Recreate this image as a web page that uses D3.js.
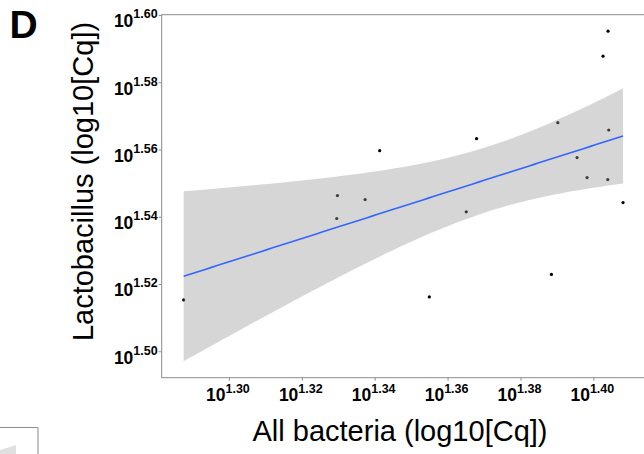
<!DOCTYPE html>
<html>
<head>
<meta charset="utf-8">
<script src="https://cdn.jsdelivr.net/npm/d3@7"></script>
<style>
	body { margin: 0; background: #fff; }
	svg { display: block; font-family: 'Liberation Sans', Arial, sans-serif; }
</style>
</head>
<body>
<svg id="chart" width="644" height="454"></svg>
<script>
// values (log10 Cq)
const allBacteria = [1.40403, 1.40266, 1.39025, 1.40422, 1.36795, 1.39553, 1.39827, 1.40395, 1.40814,
	1.36512, 1.32978, 1.33737, 1.32959, 1.28759, 1.35499, 1.38849, 1.34137]
const lactobacillus = [1.59516, 1.58774, 1.56795, 1.56579, 1.5632, 1.55757, 1.55163, 1.55104, 1.54421,
	1.54145, 1.54629, 1.5451, 1.53947, 1.51525, 1.51614, 1.52285, 1.55964]
const xTicks = [1.3, 1.32, 1.34, 1.36, 1.38, 1.4]
const xTickLabels = ['1.30', '1.32', '1.34', '1.36', '1.38', '1.40']
const yTicks = [1.5, 1.52, 1.54, 1.56, 1.58, 1.6]
const yTickLabels = ['1.50', '1.52', '1.54', '1.56', '1.58', '1.60']

const panelLabel = 'D'
const xTitle = 'All bacteria (log10[Cq])'
const yTitle = 'Lactobacillus (log10[Cq])'

// t quantile 0.975 for n - 2 = 15 degrees of freedom
const tCrit = 2.131

const panel = { left: 161.7, top: 14.7, right: 645, bottom: 377.7 }

const points = allBacteria.map((x, i) => ({ x, y: lactobacillus[i] }))

// linear model with 95% confidence band, like geom_smooth(method = 'lm')
function fitLine(data) {
	const n = data.length
	const mx = d3.mean(data, d => d.x)
	const my = d3.mean(data, d => d.y)
	const sxx = d3.sum(data, d => (d.x - mx) ** 2)
	const sxy = d3.sum(data, d => (d.x - mx) * (d.y - my))
	const slope = sxy / sxx
	const intercept = my - slope * mx
	const rss = d3.sum(data, d => (d.y - intercept - slope * d.x) ** 2)
	const s = Math.sqrt(rss / (n - 2))
	const [x0, x1] = d3.extent(data, d => d.x)
	return d3.range(80).map(i => {
		const x = x0 + ((x1 - x0) * i) / 79
		const fit = intercept + slope * x
		const se = s * Math.sqrt(1 / n + (x - mx) ** 2 / sxx)
		return { x, fit, lo: fit - tCrit * se, hi: fit + tCrit * se }
	})
}

const band = fitLine(points)

function expand([a, b]) {
	const pad = (b - a) * 0.05
	return [a - pad, b + pad]
}

const xDomain = expand(d3.extent(allBacteria))
const yDomain = expand([
	Math.min(d3.min(lactobacillus), d3.min(band, d => d.lo)),
	Math.max(d3.max(lactobacillus), d3.max(band, d => d.hi))
])

const x = d3.scaleLinear().domain(xDomain).range([panel.left, panel.right])
const y = d3.scaleLinear().domain(yDomain).range([panel.bottom, panel.top])

const svg = d3.select('#chart')

svg.append('rect')
	.attr('width', 644)
	.attr('height', 454)
	.attr('fill', '#fff')

// points first, the ribbon sits over them
svg.append('g')
	.selectAll('circle')
	.data(points)
	.enter()
	.append('circle')
	.attr('cx', d => x(d.x))
	.attr('cy', d => y(d.y))
	.attr('r', 1.6)
	.attr('fill', '#000')

svg.append('path')
	.datum(band)
	.attr('fill', '#999999')
	.attr('fill-opacity', 0.4)
	.attr('d', d3.area()
		.x(d => x(d.x))
		.y0(d => y(d.lo))
		.y1(d => y(d.hi)))

svg.append('path')
	.datum(band)
	.attr('fill', 'none')
	.attr('stroke', '#3366FF')
	.attr('stroke-width', 1.6)
	.attr('d', d3.line()
		.x(d => x(d.x))
		.y(d => y(d.fit)))

// panel border
svg.append('rect')
	.attr('x', panel.left)
	.attr('y', panel.top)
	.attr('width', panel.right - panel.left)
	.attr('height', panel.bottom - panel.top)
	.attr('fill', 'none')
	.attr('stroke', '#8c8c8c')
	.attr('stroke-width', 1)

// axes, ticks only; labels are 10^value so they are drawn by hand below
const xAxis = svg.append('g')
	.attr('transform', `translate(0,${panel.bottom})`)
	.call(d3.axisBottom(x).tickValues(xTicks).tickSize(3).tickFormat(''))
const yAxis = svg.append('g')
	.attr('transform', `translate(${panel.left},0)`)
	.call(d3.axisLeft(y).tickValues(yTicks).tickSize(3).tickFormat(''))

;[xAxis, yAxis].forEach(g => {
	g.select('.domain').remove()
	g.selectAll('.tick line').attr('stroke', '#8c8c8c')
})

const xLabels = svg.append('g')
	.selectAll('text')
	.data(xTicks)
	.enter()
	.append('text')
	.attr('x', d => x(d) - 1)
	.attr('y', panel.bottom + 23.5)
	.attr('text-anchor', 'middle')
	.attr('font-weight', 'bold')
	.attr('fill', '#000')

xLabels.append('tspan').attr('font-size', 17.5).text('10')
xLabels.append('tspan')
	.attr('font-size', 12.5)
	.attr('dy', -8)
	.text((d, i) => xTickLabels[i])

const yLabels = svg.append('g')
	.selectAll('text')
	.data(yTicks)
	.enter()
	.append('text')
	.attr('x', panel.left - 4)
	.attr('y', d => y(d) + 12.5)
	.attr('text-anchor', 'end')
	.attr('font-weight', 'bold')
	.attr('fill', '#000')

yLabels.append('tspan').attr('font-size', 17.5).text('10')
yLabels.append('tspan')
	.attr('font-size', 12.5)
	.attr('dy', -9)
	.text((d, i) => yTickLabels[i])

svg.append('text')
	.attr('x', 400)
	.attr('y', 441)
	.attr('text-anchor', 'middle')
	.attr('font-size', 29)
	.attr('fill', '#000')
	.text(xTitle)

svg.append('text')
	.attr('transform', 'translate(93,181.5) rotate(-90)')
	.attr('text-anchor', 'middle')
	.attr('font-size', 29)
	.attr('fill', '#000')
	.text(yTitle)

svg.append('text')
	.attr('x', 9.5)
	.attr('y', 38.3)
	.attr('font-size', 39)
	.attr('font-weight', 'bold')
	.attr('fill', '#000')
	.text(panelLabel)

// corner of the neighbouring panel, cut off by the crop
const corner = svg.append('g')
corner.append('path')
	.attr('d', 'M0,450 L16,445 L16,454 L0,454 Z')
	.attr('fill', '#e0e0e0')
corner.append('path')
	.attr('d', 'M0,427.5 H38 V454')
	.attr('fill', 'none')
	.attr('stroke', '#8c8c8c')
	.attr('stroke-width', 1)
</script>
</body>
</html>
